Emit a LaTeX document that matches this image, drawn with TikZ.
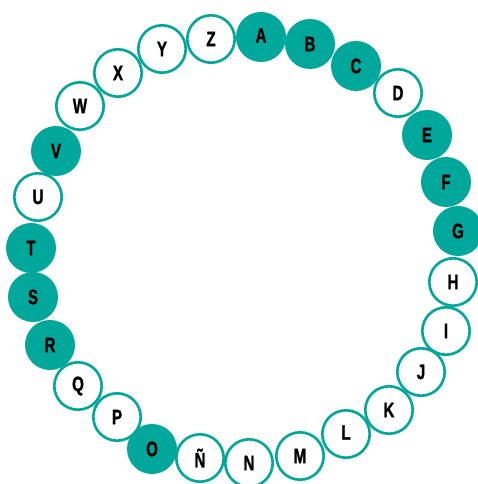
\documentclass[tikz,border=0pt]{standalone}
\usepackage{fontspec}
\setmainfont{Liberation Sans}[FakeStretch=0.72,BoldFeatures={FakeBold=1.3}]
\definecolor{teal}{RGB}{0,168,155}
\tikzset{
  full/.style={circle,fill=teal,minimum size=50pt,inner sep=0pt,font=\bfseries\fontsize{21}{21}\selectfont,text=black},
  empty/.style={circle,draw=teal,line width=2.6pt,fill=white,minimum size=47.4pt,inner sep=0pt,font=\bfseries\fontsize{21}{21}\selectfont,text=black}
}
\begin{document}
\begin{tikzpicture}[x=1pt,y=-1pt]
\useasboundingbox (0,0) rectangle (477,484);
% whites below their neighbours
\node[empty] (W) at (80,106) {W};
\node[empty] (P) at (117,417) {P};
% filled
\node[full] (A) at (261,37) {\raisebox{3pt}{A}};
\node[full] (B) at (310,44) {B};
\node[full] (C) at (356,66) {C};
\node[full] (F) at (446,182) {F};
\node[full] (G) at (458,231) {G};
\node[full] (O) at (152,449) {O};
\node[full] (R) at (50,345) {R};
\node[full] (S) at (33,297) {S};
\node[full] (T) at (31,248) {T};
\node[full] (V) at (56,151) {V};
% whites
\node[empty] (D) at (398,93) {D};
\node[empty] (H) at (453,282) {H};
\node[empty] (I) at (446,331) {I};
\node[empty] (J) at (421,372) {J};
\node[empty] (K) at (389,410) {K};
\node[empty] (L) at (346,434) {\raisebox{3pt}{L}};
\node[empty] (M) at (300,456) {M};
\node[empty] (N) at (249,463) {N};
\node[empty] (NN) at (200,458) {Ñ};
\node[empty] (Q) at (78,386) {Q};
\node[empty] (U) at (38,197) {U};
\node[empty] (X) at (118,73) {X};
\node[empty] (Y) at (162,49) {Y};
\node[empty] (Z) at (211,39) {Z};
% on top
\node[full] (E) at (427,135) {E};
\end{tikzpicture}
\end{document}
